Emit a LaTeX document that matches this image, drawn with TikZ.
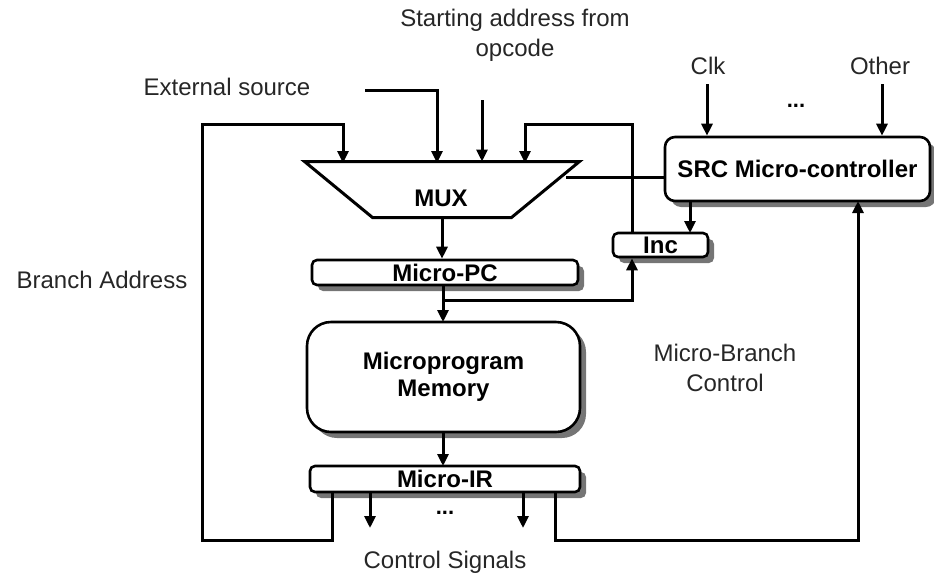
\documentclass[tikz,border=0pt]{standalone}
\usepackage{fontspec}
\setmainfont{Liberation Sans}
\usetikzlibrary{shadows,arrows.meta}
\begin{document}
\begin{tikzpicture}[x=1pt,y=-1pt,line width=3pt,
  box/.style={draw,fill=white,line width=2.6pt,rounded corners=5pt,
    drop shadow={shadow xshift=6pt,shadow yshift=-6pt,fill=black!60,opacity=0.9},
    font=\fontsize{24}{27}\selectfont\bfseries,inner sep=0pt,align=center},
  lbl/.style={font=\fontsize{24}{30}\selectfont,text=black!85,align=center,inner sep=0pt},
  dots/.style={font=\fontsize{22}{24}\selectfont\bfseries,inner sep=0pt},
  arr/.style={-{Triangle[length=12pt,width=11pt]}},
]
\useasboundingbox (0,0) rectangle (934,579);

% MUX (trapezoid)
\node[minimum width=272pt,minimum height=53pt,inner sep=0pt] (mux) at (442,189.5) {};
\draw[line width=3pt,line join=miter] (mux.north west) -- (mux.north east)
  -- ([xshift=-68pt]mux.south east) -- ([xshift=68pt]mux.south west) -- cycle;
\node[font=\fontsize{24}{27}\selectfont\bfseries] (muxl) at (441,198) {MUX};

% boxes
\node[box,minimum width=266pt,minimum height=25pt] (pc) at (445,272.5) {Micro-PC};
\node[box,minimum width=273pt,minimum height=110pt,rounded corners=24pt] (mem) at (443.5,377) {Microprogram\\Memory};
\node[box,minimum width=270pt,minimum height=26pt] (ir) at (445,479) {Micro-IR};
\node[box,minimum width=265pt,minimum height=64pt,rounded corners=10pt] (src) at (797.5,169) {SRC Micro-controller};
\node[box,minimum width=95pt,minimum height=24pt] (inc) at (660.5,245) {Inc};

% labels
\node[lbl] (ext) at (227,87) {External source};
\node[lbl] (start) at (515,35) {Starting address from\\opcode};
\node[lbl] (clk) at (708,66) {Clk};
\node[lbl] (other) at (880,66) {Other};
\node[dots] (sdots) at (796,106) {...};
\node[lbl] (branch) at (102,280) {Branch Address};
\node[lbl] (mbc) at (725,368) {Micro-Branch\\Control};
\node[dots] (cdots) at (445,513) {...};
\node[lbl] (cs) at (445,562) {Control Signals};

% free ends
\coordinate (extS) at (365,90);
\coordinate (startS) at (482,100);
\coordinate (clkS) at (707,84);
\coordinate (otherS) at (882,84);
\coordinate (cs1) at (370,528);
\coordinate (cs2) at (523,528);

% connectors
\draw[arr] (extS) -| (437,163);
\draw[arr] (startS) -- (startS |- mux.north);
\draw[arr] (mux.south) -- (mux.south |- pc.north);
\draw[arr] (443,285) -- (443,322);
\draw[arr] (443,300) -| (inc.south -| 632,0);
\draw[arr] (632,233) |- (525,124) -- (525,163);
\draw[arr] (690,201) -- (690,233);
\draw (566,177) -- (src.west |- 0,177);
\draw[arr] (clkS) -- (clkS |- src.north);
\draw[arr] (otherS) -- (otherS |- src.north);
\draw[arr] (mem.south -| 443,0) -- (443,466);
\draw[arr] (370,492) -- (cs1);
\draw[arr] (523,492) -- (cs2);
\draw[arr] (332,492) -- (332,540) -- (202,540) -- (202,124) -- (343,124) -- (343,163);
\draw[arr] (555,492) -- (555,540) -- (858,540) -- (858,201);
\end{tikzpicture}
\end{document}
